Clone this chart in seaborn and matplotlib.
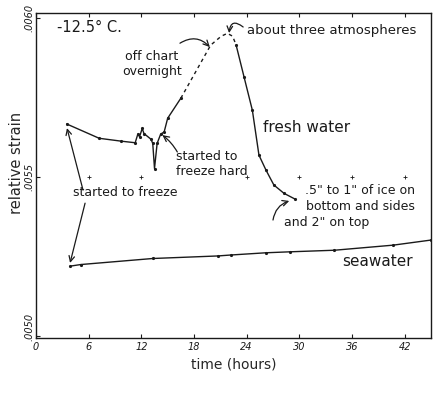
import matplotlib
matplotlib.use("Agg")
import matplotlib.pyplot as plt
import matplotlib.transforms as mtransforms
import seaborn as sns
import pandas as pd

# fresh water, before the overnight gap
fresh_hours = [3.5, 7.2, 9.7, 11.3, 11.6, 11.8, 12.1, 12.3, 13.1, 13.3, 13.5,
               13.8, 14.2, 14.6, 15.0, 16.5]
fresh_strain = [.005667, .005622, .005613, .005608, .005635, .005627, .005653,
                .005637, .005619, .005606, .005527, .005606, .005635, .005642,
                .005685, .005748]
# off chart overnight (dashed)
night_hours = [16.5, 19.9, 21.1, 21.8, 22.4, 22.8]
night_strain = [.005748, .005915, .005943, .005952, .005943, .005915]
# fresh water, after the gap
after_hours = [22.8, 23.7, 24.65, 25.4, 26.2, 27.1, 28.25, 29.5]
after_strain = [.005915, .005815, .00571, .005569, .005522, .005475, .005449,
                .005431]
# seawater
sea_hours = [3.9, 5.1, 13.3, 20.7, 22.2, 26.2, 28.9, 34.0, 40.7, 45.0]
sea_strain = [.005220, .005225, .005244, .005252, .005255, .005262, .005265,
              .005270, .005286, .005302]

x_ticks = [0, 6, 12, 18, 24, 30, 36, 42]
y_ticks = [.0050, .0055, .0060]
y_tick_labels = ['.0050', '.0055', '.0060']
cross_hours = [6, 12, 24, 30, 36, 42]

sns.set_style('white')
plt.rcParams['font.family'] = ['DejaVu Sans']

fig = plt.figure(figsize=(4.43, 3.98), dpi=100)
ax = fig.add_axes([36 / 443, 1 - 338 / 398, (431 - 36) / 443, (338 - 13) / 398])

ink = '#1a1a1a'
line_kw = dict(sort=False, estimator=None, color=ink, lw=1.0, ax=ax,
               legend=False)
sns.lineplot(data=pd.DataFrame({'h': fresh_hours, 's': fresh_strain}),
             x='h', y='s', marker='.', markersize=3, mec=ink, **line_kw)
sns.lineplot(data=pd.DataFrame({'h': night_hours, 's': night_strain}),
             x='h', y='s', linestyle=(0, (2.5, 2.5)), **line_kw)
sns.lineplot(data=pd.DataFrame({'h': after_hours, 's': after_strain}),
             x='h', y='s', marker='.', markersize=3, mec=ink, **line_kw)
sns.lineplot(data=pd.DataFrame({'h': sea_hours, 's': sea_strain}),
             x='h', y='s', marker='.', markersize=3, mec=ink, **line_kw)

# little grid crosses
ax.scatter(cross_hours, [.0055] * len(cross_hours), marker='+', s=12,
           color=ink, linewidths=0.6)

ax.set_xlim(0, 45)
ax.set_ylim(.004994, .006016)
ax.set_xticks(x_ticks)
ax.set_xticklabels([str(t) for t in x_ticks], fontsize=7, style='italic')
ax.set_yticks(y_ticks)
ax.set_yticklabels(y_tick_labels, fontsize=7, style='italic', rotation=90,
                   va='center')
ax.tick_params(direction='in', length=3, width=0.8, top=True, left=True,
               bottom=True, right=False, pad=3, colors=ink)
ax.tick_params(axis='y', pad=1)
# lift the bottom y label a little so it clears the "0"
lbl = ax.get_yticklabels()[0]
lbl.set_transform(lbl.get_transform() +
                  mtransforms.ScaledTranslation(0, 9 / 100, fig.dpi_scale_trans))
for sp in ax.spines.values():
    sp.set_color(ink)
    sp.set_linewidth(1.0)

ax.set_xlabel('time (hours)', fontsize=10, labelpad=4)
ax.set_ylabel('relative strain', fontsize=10.5)
ax.yaxis.set_label_coords(-0.03, 0.54)

tk = dict(fontsize=9, color=ink)
arr = dict(arrowstyle='->', color=ink, lw=0.9, shrinkA=0, shrinkB=0)

ax.text(2.4, .005969, '-12.5° C.', va='center', ha='left', fontsize=10.5,
        color=ink)
ax.text(13.2, .005855, 'off chart\novernight', ha='center', va='center',
        multialignment='center', **tk)
ax.annotate('', xy=(19.8, .005909), xytext=(16.4, .005921),
            arrowprops=dict(connectionstyle='arc3,rad=-0.4', **arr))
ax.text(24.06, .005962, 'about three atmospheres', ha='left', va='center',
        fontsize=9.5, color=ink)
ax.annotate('', xy=(22.0, .005953), xytext=(23.6, .005972),
            arrowprops=dict(connectionstyle='arc3,rad=0.9', **arr))
ax.text(25.9, .005657, 'fresh water', ha='left', va='center', fontsize=11,
        color=ink)
ax.text(16.0, .005541, 'started to\nfreeze hard', ha='left', va='center',
        **tk)
ax.annotate('', xy=(14.4, .005632), xytext=(16.1, .005579),
            arrowprops=dict(connectionstyle='arc3,rad=0.1', **arr))
ax.text(4.2, .00545, 'started to freeze', ha='left', va='center', **tk)
ax.annotate('', xy=(3.53, .005654), xytext=(5.36, .005459),
            arrowprops=dict(connectionstyle='arc3,rad=0', **arr))
ax.annotate('', xy=(3.88, .005230), xytext=(5.59, .005418),
            arrowprops=dict(connectionstyle='arc3,rad=0', **arr))
ax.text(30.7, .005459, '.5" to 1" of ice on', ha='left', va='center', **tk)
ax.text(30.8, .005409, 'bottom and sides', ha='left', va='center', **tk)
ax.text(28.2, .005358, 'and 2" on top', ha='left', va='center', **tk)
ax.annotate('', xy=(28.85, .005425), xytext=(27.0, .005365),
            arrowprops=dict(connectionstyle='arc3,rad=-0.3', **arr))
ax.text(34.9, .005233, 'seawater', ha='left', va='center', fontsize=11,
        color=ink)

fig.savefig('out.png', dpi=100)
